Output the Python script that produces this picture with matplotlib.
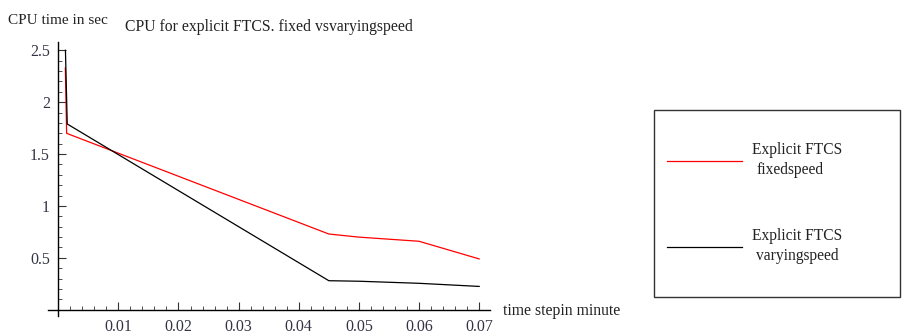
import matplotlib
matplotlib.use("Agg")
import matplotlib.pyplot as plt
from matplotlib.ticker import MultipleLocator, FixedLocator

plt.rcParams['font.family'] = ['Liberation Serif', 'DejaVu Serif']

# CPU time (s) versus time step (min)
fixed_dt = [0.00118, 0.0014, 0.045, 0.05, 0.06, 0.07]
fixed_cpu = [2.33, 1.70, 0.73, 0.70, 0.66, 0.49]
varying_dt = [0.0012, 0.0015, 0.045, 0.05, 0.06, 0.07]
varying_cpu = [2.50, 1.79, 0.28, 0.275, 0.255, 0.225]

x_ticks = [0.01, 0.02, 0.03, 0.04, 0.05, 0.06, 0.07]
x_tick_labels = ["0.01", "0.02", "0.03", "0.04", "0.05", "0.06", "0.07"]
y_ticks = [0.5, 1, 1.5, 2, 2.5]
y_tick_labels = ["0.5", "1", "1.5", "2", "2.5"]

W, H = 902, 335
fig = plt.figure(figsize=(W / 100, H / 100), dpi=100)
ax = fig.add_axes([48 / W, (H - 316) / H, 442 / W, 274 / H])

ax.plot(fixed_dt, fixed_cpu, color='#ff0000', lw=0.9)
ax.plot(varying_dt, varying_cpu, color='black', lw=0.9)

ax.set_xlim(-0.0017, 0.0718)
ax.set_ylim(-0.06, 2.58)

for s in ('top', 'right'):
    ax.spines[s].set_visible(False)
ax.spines['left'].set_position(('data', 0))
ax.spines['bottom'].set_position(('data', 0))
for s in ('left', 'bottom'):
    ax.spines[s].set_linewidth(1.0)

ax.xaxis.set_major_locator(FixedLocator(x_ticks))
ax.set_xticklabels(x_tick_labels)
ax.xaxis.set_minor_locator(MultipleLocator(0.002))
ax.yaxis.set_major_locator(FixedLocator(y_ticks))
ax.set_yticklabels(y_tick_labels)
ax.yaxis.set_minor_locator(MultipleLocator(0.1))

ax.tick_params(axis='both', which='major', direction='in', length=6, width=0.8,
               labelsize=11.5, colors='#333333', labelcolor='#333344')
ax.tick_params(axis='both', which='minor', direction='in', length=3, width=0.6,
               colors='#333333')
ax.tick_params(axis='x', pad=7)
ax.tick_params(axis='y', pad=6)

fig.text(8 / W, 1 - 20 / H, "CPU time in sec", fontsize=11, va='center',
         ha='left', color='#222222')
fig.text(125 / W, 1 - 27 / H, "CPU for explicit FTCS. fixed vsvaryingspeed",
         fontsize=11.3, va='center', ha='left', color='#222222')
fig.text(503 / W, 1 - 311 / H, "time stepin minute", fontsize=11.3,
         va='center', ha='left', color='#222222')

# legend box drawn in figure coordinates
lx0, ly0, lx1, ly1 = 654, 110, 900, 297
fig.add_artist(plt.Rectangle((lx0 / W, 1 - ly1 / H), (lx1 - lx0) / W,
                             (ly1 - ly0) / H, transform=fig.transFigure,
                             fill=False, edgecolor='#333333', lw=1.0))
entries = [("#ff0000", "Explicit FTCS", "fixedspeed", 161),
           ("black", "Explicit FTCS", "varyingspeed", 247)]
for color, l1, l2, yl in entries:
    fig.add_artist(plt.Line2D([667 / W, 742 / W], [1 - yl / H, 1 - yl / H],
                              transform=fig.transFigure, color=color, lw=0.9))
    fig.text(752 / W, 1 - (yl - 11) / H, l1, fontsize=11.2, va='center',
             ha='left', color='#222222')
    fig.text(756 / W, 1 - (yl + 9) / H, l2, fontsize=11.2, va='center',
             ha='left', color='#222222')

fig.savefig("out.png", dpi=100)
